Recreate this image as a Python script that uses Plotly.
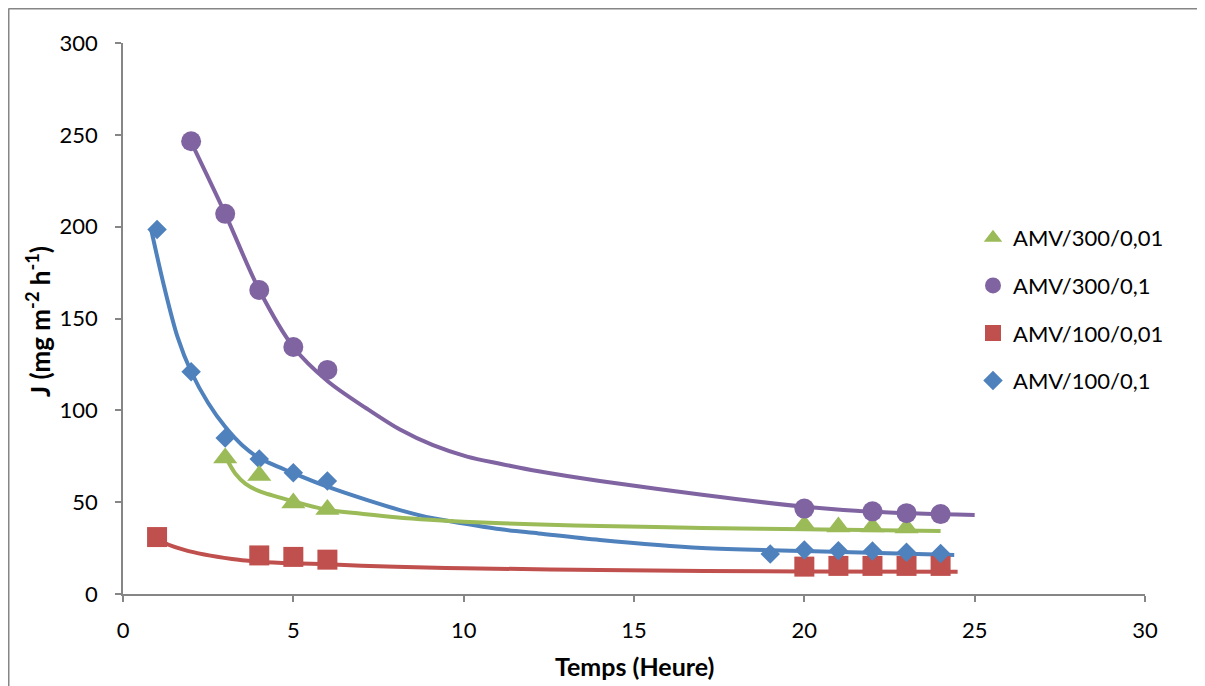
import plotly.graph_objects as go

# ---------------- data ----------------
# measured points
x_300_001 = [3, 4, 5, 6, 20, 21, 22, 23]
y_300_001 = [74, 64.5, 49.5, 46, 37.5, 36.5, 36.5, 36]

x_300_01 = [2, 3, 4, 5, 6, 20, 22, 23, 24]
y_300_01 = [246.5, 207, 165.5, 134.5, 122, 46.5, 45, 44, 43.5]

x_100_001 = [1, 4, 5, 6, 20, 21, 22, 23, 24]
y_100_001 = [31, 21, 20.2, 18.7, 14.9, 15.3, 15.3, 15.3, 15.3]

x_100_01 = [1, 2, 3, 4, 5, 6, 19, 20, 21, 22, 23, 24]
y_100_01 = [198.5, 121, 85, 73.5, 66, 61.5, 21.8, 24, 23.6, 23.4, 22.7, 22.1]

# trend curves
cx_300_001 = [3.0, 3.3, 3.6, 4, 5, 6, 7, 8, 9, 10, 12, 14, 17, 20, 24]
cy_300_001 = [75, 65.5, 60, 56, 50.5, 45.8, 43.7, 41.8, 40.4, 39.4, 38, 37, 36, 35.3, 34.3]

cx_300_01 = [2, 3, 4, 5, 6, 7.15, 8.13, 9.1, 10.1, 11.1, 12.2, 14, 17, 20, 22, 25]
cy_300_01 = [246, 207, 165.5, 134.5, 116, 101, 89.5, 81, 74.8, 70.8, 66.8, 61.5, 54, 47.5, 44.8, 43]

cx_100_001 = [0.78, 1.05, 1.8, 3.2, 4, 5, 6, 7, 8, 10, 14, 20, 24.5]
cy_100_001 = [35.5, 29.5, 24, 19, 17.6, 16.7, 16.2, 15.4, 14.8, 14, 13.1, 12.2, 12.1]

cx_100_01 = [0.82, 1.2, 1.6, 2, 2.5, 3, 3.5, 4, 5, 6, 7.15, 8.13, 9.1, 10.1, 11.1, 12.2, 14, 17, 20, 24.4]
cy_100_01 = [199, 168, 140, 121, 104, 91, 81, 74, 65.8, 58.4, 51.2, 45.7, 41.2, 38.1, 35.2, 33, 29.4, 25, 23.4, 21.2]

names = ["AMV/300/0,01", "AMV/300/0,1", "AMV/100/0,01", "AMV/100/0,1"]
colors = ["#9BBB59", "#8064A2", "#C0504D", "#4F81BD"]
symbols = ["triangle-up", "circle", "square", "diamond"]
sizes = [21, 20, 20, 15]

x_ticks = [0, 5, 10, 15, 20, 25, 30]
y_ticks = [0, 50, 100, 150, 200, 250, 300]

FONT = "Lato, 'Open Sans', sans-serif"
AXIS_GREY = "#868686"

# ---------------- figure ----------------
fig = go.Figure()

curves = [(cx_300_001, cy_300_001), (cx_300_01, cy_300_01),
          (cx_100_001, cy_100_001), (cx_100_01, cy_100_01)]
points = [(x_300_001, y_300_001), (x_300_01, y_300_01),
          (x_100_001, y_100_001), (x_100_01, y_100_01)]

for i in [2, 3, 0, 1]:
    cx, cy = curves[i]
    fig.add_trace(go.Scatter(
        x=cx, y=cy, mode="lines", line=dict(color=colors[i], width=4, shape="spline", smoothing=0.9),
        showlegend=False, hoverinfo="skip"))

for i in [2, 3, 0, 1]:
    px, py = points[i]
    fig.add_trace(go.Scatter(
        x=px, y=py, mode="markers", name=names[i], legendrank=i + 1, legendgroup=names[i],
        marker=dict(symbol=symbols[i], size=sizes[i], color=colors[i], line=dict(width=0))))

# the page has an 8px body margin: figure coordinates = page coordinates - 8
OFF = 8
W, H = 1197, 678
L, T = 123 - OFF, 43 - OFF
R = W - (1145 - OFF)
B = H - (594 - OFF)
pw, ph = W - L - R, H - T - B

def px2x(p):
    return (p - OFF - L) / pw

def py2y(p):
    return (H - B - (p - OFF)) / ph

fig.update_layout(
    width=W, height=H,
    margin=dict(l=L, r=R, t=T, b=B, autoexpand=False),
    paper_bgcolor="white", plot_bgcolor="white",
    font=dict(family=FONT, size=22, color="#000000"),
    showlegend=True,
    legend=dict(x=px2x(973), y=py2y(217), xanchor="left", yanchor="top",
                font=dict(family=FONT, size=22, color="#000000"),
                tracegroupgap=16, bgcolor="rgba(0,0,0,0)", itemwidth=30),
    xaxis=dict(range=[0, 30], tickvals=x_ticks, ticktext=[str(v) for v in x_ticks],
               showgrid=False, zeroline=False, showline=True, linecolor=AXIS_GREY, linewidth=1.5,
               ticks="outside", ticklen=6, tickwidth=1.5, tickcolor=AXIS_GREY,
               ticklabelstandoff=10, tickfont=dict(family=FONT, size=22)),
    yaxis=dict(range=[0, 300], tickvals=y_ticks, ticktext=[str(v) for v in y_ticks],
               showgrid=False, zeroline=False, showline=True, linecolor=AXIS_GREY, linewidth=1.5,
               ticks="outside", ticklen=6, tickwidth=1.5, tickcolor=AXIS_GREY,
               ticklabelstandoff=13, tickfont=dict(family=FONT, size=22)),
    shapes=[
        dict(type="line", xref="paper", yref="paper",
             x0=px2x(8.5), x1=px2x(8.5), y0=py2y(8.5), y1=py2y(760),
             line=dict(color=AXIS_GREY, width=2), layer="below"),
        dict(type="line", xref="paper", yref="paper",
             x0=px2x(8.5), x1=px2x(1230), y0=py2y(8.5), y1=py2y(8.5),
             line=dict(color=AXIS_GREY, width=2), layer="below"),
    ],
    annotations=[
        dict(text="<b>Temps (Heure)</b>", xref="paper", yref="paper",
             x=0.5, y=py2y(666), xanchor="center", yanchor="middle", showarrow=False,
             font=dict(family=FONT, size=25, color="#000000")),
        dict(text="<b>J (mg m<sup>-2</sup> h<sup>-1</sup>)</b>", xref="paper", yref="paper",
             x=px2x(38), y=py2y(322), xanchor="center", yanchor="middle", showarrow=False, textangle=-90,
             font=dict(family=FONT, size=26, color="#000000")),
    ],
)

fig.write_html("out.html")
